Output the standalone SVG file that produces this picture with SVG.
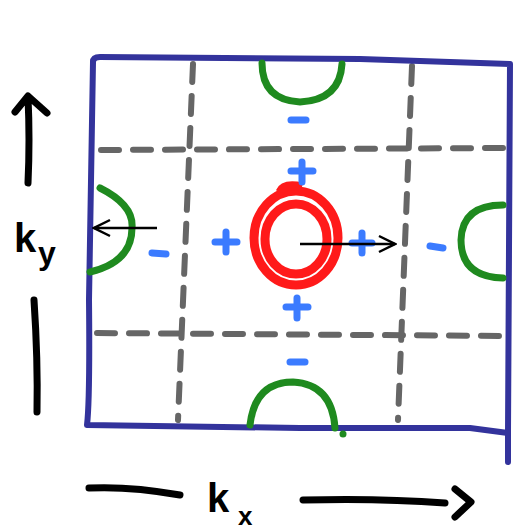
<svg xmlns="http://www.w3.org/2000/svg" width="517" height="530" viewBox="0 0 517 530">
<defs>
<style>
.grid{fill:none;stroke:#666;stroke-width:6;stroke-linecap:round;stroke-dasharray:18 14}
.box{fill:none;stroke:#33339c;stroke-width:6;stroke-linecap:round;stroke-linejoin:round}
.fs{fill:none;stroke:#1f8a1f;stroke-width:7;stroke-linecap:round}
.sign{fill:none;stroke:#3b7bff;stroke-width:7;stroke-linecap:round}
.red{fill:none;stroke:#ff1a1a;stroke-width:9}
.ax{fill:none;stroke:#000;stroke-width:7;stroke-linecap:round;stroke-linejoin:round}
.vec{fill:none;stroke:#000;stroke-width:2.5}
.lbl{font-family:"Liberation Sans",Arial,sans-serif;font-weight:bold;fill:#000}
</style>
<marker id="ah2" viewBox="0 0 20 20" refX="18" refY="10" markerWidth="20" markerHeight="20" markerUnits="userSpaceOnUse" orient="auto">
<path d="M2,2 L18,10 L2,18" fill="none" stroke="#000" stroke-width="2.5"/>
</marker>
</defs>
<rect width="517" height="530" fill="#fff"/>
<g id="grid">
<line class="grid" x1="101" y1="150" x2="506" y2="148"/>
<line class="grid" x1="97" y1="333" x2="506" y2="336"/>
<line class="grid" x1="193" y1="64" x2="178" y2="420"/>
<line class="grid" x1="412" y1="66" x2="398" y2="420"/>
</g>
<g id="box">
<path class="box" d="M93,62 Q93,57 100,57 L360,59 L510,64 L508,433 L508,462"/>
<path class="box" d="M93,62 L89,300 Q90,400 87,425 L300,428 L470,428 L508,433"/>
</g>
<g id="fermi-surfaces">
<path class="fs" d="M262,63 Q262,100 300,102 Q340,100 342,64"/>
<path class="fs" d="M250,425 Q255,382 293,382 Q332,384 335,428"/>
<circle cx="343" cy="434" r="3.5" fill="#1f8a1f"/>
<path class="fs" d="M100,188 Q134,205 132,228 Q132,262 90,272"/>
<path class="fs" d="M503,205 Q462,205 461,240 Q461,277 503,278"/>
</g>
<g id="center">
<ellipse class="red" cx="296" cy="238" rx="42" ry="47"/>
<ellipse class="red" cx="296" cy="239" rx="31" ry="35"/>
<path class="red" d="M280,192 Q284,183 302,187"/>
</g>
<g id="signs">
<path class="sign" d="M291,171 H313 M302,162 V182"/>
<path class="sign" d="M215,242 H237 M226,232 V252"/>
<path class="sign" d="M352,243 H372 M362,233 V253"/>
<path class="sign" d="M286,307 H308 M297,298 V318"/>
<line class="sign" x1="291" y1="120" x2="306" y2="120"/>
<line class="sign" x1="290" y1="362" x2="305" y2="362"/>
<line class="sign" x1="152" y1="253" x2="166" y2="254"/>
<line class="sign" x1="430" y1="246" x2="443" y2="248"/>
</g>
<g id="vectors">
<line class="vec" x1="300" y1="244" x2="395" y2="244" marker-end="url(#ah2)"/>
<line class="vec" x1="157" y1="228" x2="94" y2="228" marker-end="url(#ah2)"/>
</g>
<g id="axes">
<path class="ax" d="M28,183 Q30,140 28,97 M15,112 L28,96 L47,113"/>
<path class="ax" d="M34,300 Q38,360 37,412"/>
<path class="ax" d="M89,488 Q130,486 180,495"/>
<path class="ax" d="M303,500 Q380,498 445,503 M455,489 L471,502 L455,517"/>
<text class="lbl" x="14" y="252" font-size="40">k</text>
<text class="lbl" x="38" y="264" font-size="32">y</text>
<text class="lbl" x="207" y="512" font-size="40">k</text>
<text class="lbl" x="238" y="525" font-size="26">x</text>
</g>
</svg>
